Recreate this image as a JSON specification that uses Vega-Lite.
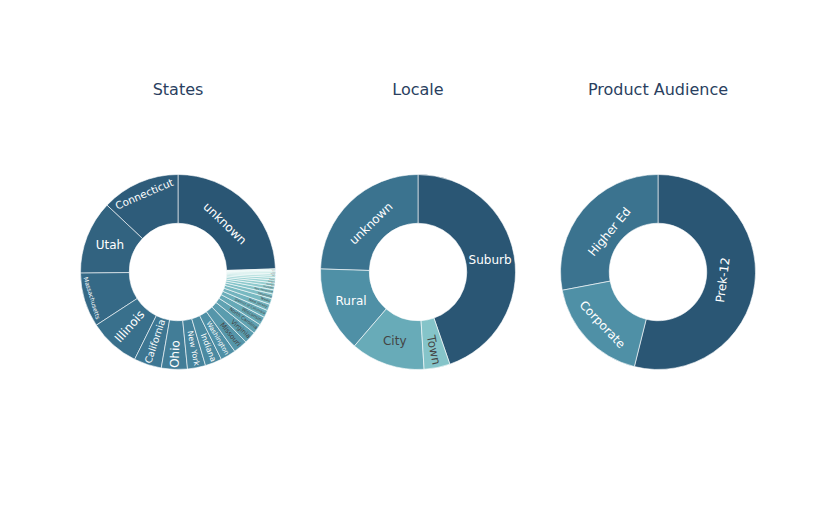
{
  "$schema": "https://vega.github.io/schema/vega-lite/v6.json",
  "padding": {"left": 58, "top": 82, "right": 0, "bottom": 0},
  "background": "white",
  "config": {"view": {"stroke": null}, "font": "DejaVu Sans"},
  "data": {
    "values": [
      {"chart": "States", "label": "unknown", "value": 881},
      {"chart": "States", "label": "Connecticut", "value": 467},
      {"chart": "States", "label": "Utah", "value": 439},
      {"chart": "States", "label": "Massachusetts", "value": 324},
      {"chart": "States", "label": "Illinois", "value": 305},
      {"chart": "States", "label": "California", "value": 165},
      {"chart": "States", "label": "Ohio", "value": 155},
      {"chart": "States", "label": "New York", "value": 108},
      {"chart": "States", "label": "Indiana", "value": 100},
      {"chart": "States", "label": "Washington", "value": 92},
      {"chart": "States", "label": "Missouri", "value": 85},
      {"chart": "States", "label": "Virginia", "value": 72},
      {"chart": "States", "label": "North Carolina", "value": 60},
      {"chart": "States", "label": "Wisconsin", "value": 50},
      {"chart": "States", "label": "District of Columbia", "value": 44},
      {"chart": "States", "label": "New Jersey", "value": 39},
      {"chart": "States", "label": "Texas", "value": 35},
      {"chart": "States", "label": "Oklahoma", "value": 28},
      {"chart": "States", "label": "New Hampshire", "value": 25},
      {"chart": "States", "label": "Michigan", "value": 22},
      {"chart": "States", "label": "Georgia", "value": 19},
      {"chart": "States", "label": "Oregon", "value": 17},
      {"chart": "States", "label": "Florida", "value": 15},
      {"chart": "States", "label": "Iowa", "value": 13},
      {"chart": "States", "label": "Kansas", "value": 11},
      {"chart": "States", "label": "Idaho", "value": 10},
      {"chart": "States", "label": "Maine", "value": 9},
      {"chart": "States", "label": "Vermont", "value": 8},
      {"chart": "Locale", "label": "Suburb", "value": 447},
      {"chart": "Locale", "label": "unknown", "value": 245},
      {"chart": "Locale", "label": "Rural", "value": 142},
      {"chart": "Locale", "label": "City", "value": 123},
      {"chart": "Locale", "label": "Town", "value": 43},
      {"chart": "Product Audience", "label": "Prek-12", "value": 539},
      {"chart": "Product Audience", "label": "Higher Ed", "value": 280},
      {"chart": "Product Audience", "label": "Corporate", "value": 181}
    ]
  },
  "transform": [
    {"joinaggregate": [{"op": "sum", "field": "value", "as": "total"}, {"op": "count", "as": "n"}], "groupby": ["chart"]},
    {"window": [{"op": "row_number", "as": "r"}], "sort": [{"field": "value", "order": "descending"}], "groupby": ["chart"]},
    {"calculate": "datum.r == 1 ? datum.n + 1 : datum.r", "as": "k"},
    {"calculate": "(datum.r - 1) * min(1, 6 / (datum.n - 1))", "as": "p"},
    {"window": [{"op": "sum", "field": "value", "as": "cum"}], "sort": [{"field": "k", "order": "ascending"}], "groupby": ["chart"], "frame": [null, 0]},
    {"calculate": "12 * (0.63 * length(datum.label) - 0.35 * length(replace(datum.label, regexp('[^iljI.]', 'g'), '')) - 0.27 * length(replace(datum.label, regexp('[^ftr -]', 'g'), '')) + 0.25 * length(replace(datum.label, regexp('[^mwMW]', 'g'), '')))", "as": "w"},
    {"calculate": "PI * datum.value / datum.total", "as": "half"},
    {"calculate": "min(1 / (1 + 1 / sin(datum.half)), 0.25)", "as": "rins"},
    {"calculate": "datum.rins * 97.5 * 2 / sqrt(datum.w * datum.w + 256)", "as": "sh"},
    {"calculate": "datum.w / 16", "as": "ar"},
    {"calculate": "datum.ar + 1 / (2 * tan(datum.half))", "as": "qr"},
    {"calculate": "91.5 * min(1 / (sqrt(datum.qr * datum.qr + 0.5) + datum.qr), 0.5 / (sqrt(datum.ar * datum.ar + 0.25) + datum.ar))", "as": "hr"},
    {"calculate": "2 * datum.hr / 16", "as": "sr"},
    {"calculate": "sqrt(1 - pow(datum.hr / 91.5, 2)) - datum.ar * datum.hr / 91.5", "as": "cr"},
    {"calculate": "16 / datum.w", "as": "at"},
    {"calculate": "datum.at + 1 / (2 * tan(datum.half))", "as": "qt"},
    {"calculate": "91.5 * min(1 / (sqrt(datum.qt * datum.qt + 0.5) + datum.qt), 0.5 / (sqrt(datum.at * datum.at + 0.25) + datum.at))", "as": "ht"},
    {"calculate": "2 * datum.ht / datum.w", "as": "st"},
    {"calculate": "sqrt(1 - pow(datum.ht / 91.5, 2)) - datum.at * datum.ht / 91.5", "as": "ct"},
    {"calculate": "(datum.sh >= 1 || (datum.sh >= datum.sr && datum.sh >= datum.st)) ? 'h' : (datum.sr >= datum.st ? 'r' : 't')", "as": "mode"},
    {"calculate": "12 * min(1, datum.mode == 'h' ? datum.sh : (datum.mode == 'r' ? datum.sr : datum.st))", "as": "fs"},
    {"calculate": "97.5 * (datum.mode == 'h' ? 1 - datum.rins : (datum.mode == 'r' ? datum.cr : datum.ct))", "as": "rc"},
    {"calculate": "360 * (1 - (datum.cum - datum.value / 2) / datum.total)", "as": "m"},
    {"calculate": "datum.mode == 'h' ? 0 : (datum.mode == 'r' ? (datum.m <= 180 ? datum.m - 90 : datum.m - 270) : (datum.m <= 90 ? datum.m : (datum.m < 270 ? datum.m - 180 : datum.m - 360)))", "as": "rot"}
  ],
  "facet": {
    "column": {
      "field": "chart",
      "type": "nominal",
      "sort": ["States", "Locale", "Product Audience"],
      "header": {
        "title": null,
        "labelFont": "DejaVu Sans",
        "labelFontSize": 16,
        "labelColor": "#2a3f5f",
        "labelPadding": 54
      }
    }
  },
  "spacing": 0,
  "resolve": {"scale": {"theta": "independent"}},
  "spec": {
    "width": 240,
    "height": 240,
    "resolve": {"scale": {"theta": "independent"}},
    "layer": [
      {
        "mark": {"type": "arc", "innerRadius": 48.75, "outerRadius": 97.5, "stroke": "#ffffff", "strokeWidth": 0.6},
        "encoding": {
          "theta": {"field": "value", "type": "quantitative", "stack": true, "scale": {"range": [6.283185307179586, 0]}},
          "order": {"field": "k", "type": "quantitative", "sort": "ascending"},
          "color": {
            "field": "p",
            "type": "quantitative",
            "scale": {"domain": [0, 1, 2, 3, 4, 5, 6], "range": ["#2a5674", "#3b738f", "#4f90a6", "#68abb8", "#85c4c9", "#a8dbd9", "#d1eeea"], "interpolate": "rgb"},
            "legend": null
          }
        }
      },
      {
        "mark": {"type": "text", "align": "center", "baseline": "middle", "font": "DejaVu Sans"},
        "encoding": {
          "theta": {"field": "m", "type": "quantitative", "stack": null, "scale": {"domain": [0, 360], "range": [0, 6.283185307179586], "nice": false, "zero": false}},
          "radius": {"field": "rc", "type": "quantitative", "scale": null},
          "angle": {"field": "rot", "type": "quantitative", "scale": null},
          "size": {"field": "fs", "type": "quantitative", "scale": null, "legend": null},
          "text": {"field": "label"},
          "color": {"condition": {"test": "datum.p > 2.04", "value": "#444444"}, "value": "#ffffff"}
        }
      }
    ]
  }
}
